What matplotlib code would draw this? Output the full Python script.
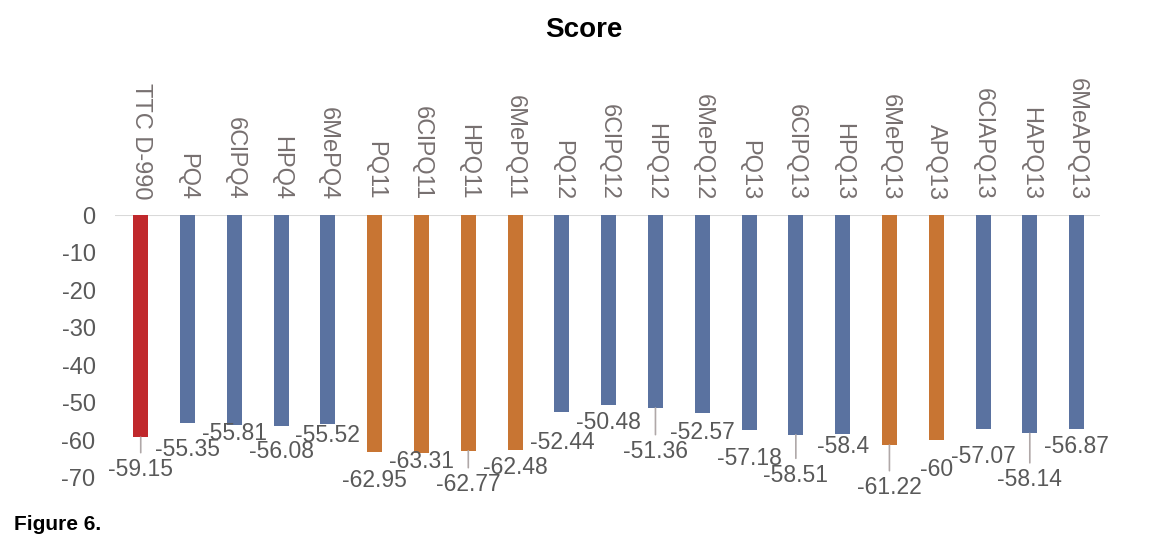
import numpy as np
import matplotlib.pyplot as plt

plt.rcParams['font.family'] = ['Liberation Sans', 'DejaVu Sans']
plt.rcParams['axes.unicode_minus'] = False

# compounds and docking scores
names = ["TTC D-990", "PQ4", "6ClPQ4", "HPQ4", "6MePQ4",
         "PQ11", "6ClPQ11", "HPQ11", "6MePQ11",
         "PQ12", "6ClPQ12", "HPQ12", "6MePQ12",
         "PQ13", "6ClPQ13", "HPQ13", "6MePQ13", "APQ13",
         "6ClAPQ13", "HAPQ13", "6MeAPQ13"]
scores = [-59.15, -55.35, -55.81, -56.08, -55.52,
          -62.95, -63.31, -62.77, -62.48,
          -52.44, -50.48, -51.36, -52.57,
          -57.18, -58.51, -58.4, -61.22, -60,
          -57.07, -58.14, -56.87]
groups = ["ref", "b", "b", "b", "b",
          "o", "o", "o", "o",
          "b", "b", "b", "b",
          "b", "b", "b", "o", "o",
          "b", "b", "b"]

# where the value labels sit (layout only)
label_y = [-67.8, -62.5, -58.2, -63.0, -58.8,
           -70.7, -65.7, -71.8, -67.3,
           -60.6, -55.3, -63.0, -58.0,
           -64.8, -69.3, -61.7, -72.6, -67.8,
           -64.4, -70.5, -61.7]
leader = {0, 7, 11, 14, 16, 19}

colors = {"ref": "#C0282C", "b": "#5A72A0", "o": "#C87533"}
grey = "#595959"

fig = plt.figure(figsize=(11.61, 5.36), dpi=100)
ax = fig.add_axes([115 / 1161, 1 - 478 / 536, 985 / 1161, 263 / 536])

x = np.arange(len(names))
ax.bar(x, scores, width=0.32, color=[colors[g] for g in groups], zorder=2)

for i, (v, ly) in enumerate(zip(scores, label_y)):
    txt = f"{v:g}"
    if i in leader:
        ax.annotate(txt, xy=(i, v), xytext=(i, ly), ha='center', va='center',
                    fontsize=16.5, color=grey, annotation_clip=False,
                    arrowprops=dict(arrowstyle='-', color='#b0a8a8', lw=1.2,
                                    shrinkA=2, shrinkB=0))
    else:
        ax.text(i, ly, txt, ha='center', va='center', fontsize=16.5,
                color=grey, clip_on=False)
    ax.text(i, 4, names[i], rotation=270, ha='center', va='bottom',
            fontsize=17, color='#777070', clip_on=False)

ax.set_xlim(-0.55, 20.5)
ax.set_ylim(-70, 0)
ax.set_yticks(np.arange(-70, 1, 10))
ax.set_xticks([])
ax.tick_params(axis='y', length=0, labelsize=17, labelcolor=grey, pad=14)
for s in ['left', 'right', 'bottom', 'top']:
    ax.spines[s].set_visible(False)
ax.axhline(0, color='#d9d9d9', lw=1.5, zorder=1)

fig.text(0.503, 1 - 30 / 536, "Score", ha='center', va='center',
         fontsize=20, fontweight='bold', color='black')
fig.text(0.012, 2 / 536, "Figure 6.", ha='left', va='bottom',
         fontsize=15, fontweight='bold', color='black')

fig.savefig("out.png", dpi=100)
